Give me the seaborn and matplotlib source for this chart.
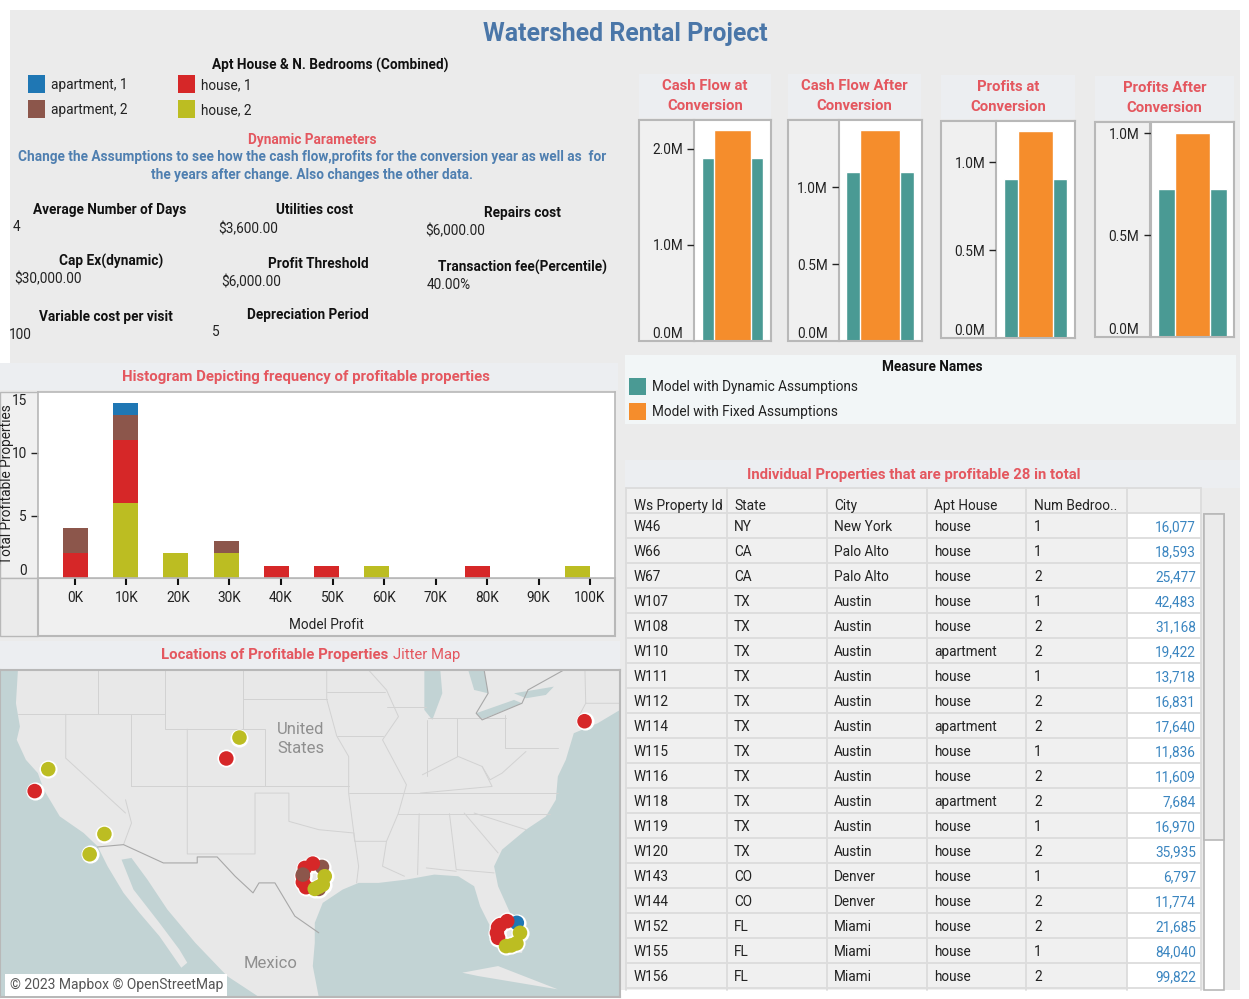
import numpy as np
import pandas as pd
import matplotlib
matplotlib.use("Agg")
import matplotlib.pyplot as plt
from matplotlib.patches import Rectangle, Polygon
import seaborn as sns

# ---------------- data ----------------
type_levels = ["apartment, 1", "apartment, 2", "house, 1", "house, 2"]
type_colors = ["#1f77b4", "#8c564b", "#d62728", "#bcbd22"]

hist_centers = [0.1, 9.7, 9.7, 9.7, 9.7, 0.1, 19.5, 29.2, 29.2, 38.9, 48.6, 58.3, 77.8, 97.2]
hist_types = ["house, 1", "house, 2", "house, 1", "apartment, 2", "apartment, 1", "apartment, 2",
              "house, 2", "house, 2", "apartment, 2", "house, 1", "house, 1", "house, 2", "house, 1", "house, 2"]
hist_counts = [2, 6, 5, 2, 1, 2, 2, 2, 1, 1, 1, 1, 1, 1]
hist_ticks = [0, 10, 20, 30, 40, 50, 60, 70, 80, 90, 100]
hist_ticklabels = ["0K", "10K", "20K", "30K", "40K", "50K", "60K", "70K", "80K", "90K", "100K"]

panel_titles = ["Cash Flow at\nConversion", "Cash Flow After\nConversion",
                "Profits at\nConversion", "Profits After\nConversion"]
dynamic_vals = [1.91, 1.10, 0.903, 0.727]
fixed_vals = [2.20, 1.375, 1.178, 1.00]
panel_ticks = [[0, 1, 2], [0, 0.5, 1], [0, 0.5, 1], [0, 0.5, 1]]

table_ids = ["W46", "W66", "W67", "W107", "W108", "W110", "W111", "W112", "W114", "W115",
             "W116", "W118", "W119", "W120", "W143", "W144", "W152", "W155", "W156"]
table_states = ["NY", "CA", "CA"] + ["TX"] * 11 + ["CO", "CO", "FL", "FL", "FL"]
table_cities = ["New York", "Palo Alto", "Palo Alto"] + ["Austin"] * 11 + ["Denver", "Denver", "Miami", "Miami", "Miami"]
table_types = ["house", "house", "house", "house", "house", "apartment", "house", "house", "apartment", "house",
               "house", "apartment", "house", "house", "house", "house", "house", "house", "house"]
table_beds = [1, 1, 2, 1, 2, 2, 1, 2, 2, 1, 2, 2, 1, 2, 1, 2, 2, 1, 2]
table_profit = ["16,077", "18,593", "25,477", "42,483", "31,168", "19,422", "13,718", "16,831", "17,640", "11,836",
                "11,609", "7,684", "16,970", "35,935", "6,797", "11,774", "21,685", "84,040", "99,822"]
table_headers = ["Ws Property Id", "State", "City", "Apt House", "Num Bedroo.."]

map_x = [1467, 601, 568, 121, 87, 262, 225,
         808, 800, 785, 765, 760, 760, 768, 760, 815, 810, 800, 790,
         1297, 1273, 1255, 1250, 1247, 1250, 1305, 1296, 1283, 1270]
map_y = [184, 233, 296, 328, 394, 523, 584,
         622, 688, 612, 625, 650, 668, 683, 645, 650, 675, 682, 688,
         790, 785, 797, 803, 820, 835, 820, 852, 858, 860]
map_t = ["house, 1", "house, 2", "house, 1", "house, 2", "house, 1", "house, 2", "house, 2",
         "apartment, 2", "apartment, 2", "house, 1", "house, 1", "house, 1", "house, 1", "house, 1", "apartment, 2",
         "house, 2", "house, 2", "house, 2", "house, 2",
         "apartment, 1", "house, 1", "house, 1", "house, 1", "house, 1", "house, 1",
         "house, 2", "house, 2", "house, 2", "house, 2"]

land = [(45, 30), (1556, 30), (1556, 150), (1500, 190), (1440, 220), (1420, 300), (1400, 350), (1395, 420),
        (1370, 470), (1320, 510), (1260, 570), (1240, 620), (1250, 680), (1280, 760), (1320, 830), (1310, 880),
        (1270, 880), (1230, 800), (1205, 740), (1190, 680), (1150, 650), (1090, 645), (1020, 660), (950, 670),
        (900, 670), (860, 690), (810, 730), (790, 790), (790, 850), (785, 920), (800, 1013), (650, 1013), (570, 950),
        (490, 850), (420, 750), (370, 660), (330, 595), (305, 600), (335, 690), (400, 790), (450, 870), (470, 910),
        (455, 925), (400, 830), (350, 760), (310, 700), (270, 620), (245, 560), (210, 520), (150, 470), (110, 390),
        (95, 340), (65, 300), (42, 240), (50, 200), (40, 130)]
lakes = [[(1065, 30), (1105, 30), (1110, 100), (1085, 180), (1065, 150)],
         [(1175, 30), (1215, 30), (1225, 100), (1190, 90)],
         [(1195, 160), (1290, 120), (1310, 130), (1210, 178)],
         [(1290, 100), (1390, 80), (1370, 105), (1320, 115)]]
cuba = [(1160, 940), (1250, 920), (1400, 990), (1300, 970), (1200, 950)]
state_lines = [
    [(45, 163), (415, 163)], [(247, 30), (247, 163)], [(415, 30), (415, 208), (666, 208), (666, 380)],
    [(611, 30), (611, 208)], [(611, 118), (820, 118)], [(470, 208), (470, 583), (640, 583), (640, 400), (725, 400), (725, 485), (800, 510), (888, 520), (890, 545), (970, 545), (960, 620), (1015, 650)],
    [(330, 163), (330, 380)], [(165, 163), (165, 295), (315, 460)], [(330, 380), (875, 380)],
    [(315, 420), (330, 490), (310, 555)], [(875, 290), (875, 400), (888, 520), (900, 620), (895, 670)],
    [(845, 228), (960, 228)], [(820, 30), (820, 118), (845, 228), (875, 290)], [(820, 95), (965, 95)],
    [(925, 30), (970, 90), (1000, 170), (960, 240), (1020, 375), (1000, 460), (970, 545)],
    [(970, 140), (1070, 140)], [(1072, 180), (1072, 350)], [(1075, 175), (1270, 175)], [(1148, 175), (1148, 290)],
    [(1268, 165), (1268, 265), (1400, 265)], [(875, 400), (1400, 400)], [(1000, 462), (1380, 462)],
    [(1052, 462), (1048, 645)], [(1128, 462), (1145, 630), (1240, 640)], [(1070, 625), (1145, 635)],
    [(1165, 460), (1250, 580)], [(1190, 460), (1320, 510)],
    [(1060, 345), (1150, 290), (1210, 320), (1230, 360), (1260, 340), (1320, 275)], [(1210, 320), (1235, 380), (1055, 400)],
    [(1468, 30), (1470, 130), (1556, 130)], [(1470, 130), (1450, 175)]]
country_lines = [
    [(245, 562), (310, 555), (410, 610), (495, 610), (495, 592), (545, 592), (590, 650), (635, 700), (650, 670),
     (690, 670), (740, 770), (800, 820)],
    [(1215, 30), (1225, 100), (1195, 160), (1210, 180), (1310, 130), (1325, 90), (1415, 30)]]

# ---------------- figure ----------------
W, H = 1249, 999
sns.set_theme(style="white")
plt.rcParams["font.family"] = ["Roboto", "DejaVu Sans"]
fig = plt.figure(figsize=(W / 100, H / 100), dpi=100, facecolor="white")

def axpx(x0, y0, x1, y1, **kw):
    return fig.add_axes([x0 / W, 1 - y1 / H, (x1 - x0) / W, (y1 - y0) / H], **kw)

bg = axpx(0, 0, W, H, zorder=0)
bg.set_xlim(0, W)
bg.set_ylim(H, 0)
bg.axis("off")

def box(x0, y0, x1, y1, fc, ec="none", lw=0):
    bg.add_patch(Rectangle((x0, y0), x1 - x0, y1 - y0, facecolor=fc, edgecolor=ec, linewidth=lw))

def txt(x, y, s, size=9.85, weight="normal", color="#222222", ha="left", **kw):
    bg.text(x, y + 1, s, fontsize=size, fontweight=weight, color=color, ha=ha, va="center", **kw)

RED = "#e4575f"
GREY = "#b8b8b8"
TEAL = "#4a9a94"
ORANGE = "#f58d2c"
HEAD = 10.7

box(10, 10, 1240, 990, "#ebebeb")
box(0, 363, 620, 998, "#ebebeb")

txt(625, 33, "Watershed Rental Project", size=17.9, weight="bold", color="#4a76a8", ha="center")

# top-left legend
txt(330, 64, "Apt House & N. Bedrooms (Combined)", weight="bold", ha="center", color="#111111")
for (sx, ly, tx), lab, col in zip([(28, 84, 51), (28, 109, 51), (178, 84, 201), (178, 109, 201)],
                                  type_levels, type_colors):
    box(sx, ly - 9, sx + 17, ly + 9, col)
    txt(tx, ly, lab)

txt(312, 139, "Dynamic Parameters", weight="bold", color=RED, ha="center")
txt(312, 156, "Change the Assumptions to see how the cash flow,profits for the conversion year as well as  for",
    weight="bold", color="#4f7fb0", ha="center")
txt(312, 174, "the years after change. Also changes the other data.", weight="bold", color="#4f7fb0", ha="center")

param_labels = ["Average Number of Days", "Utilities cost", "Repairs cost", "Cap Ex(dynamic)", "Profit Threshold",
                "Transaction fee(Percentile)", "Variable cost per visit", "Depreciation Period"]
param_lx = [110, 315, 522, 111, 318.5, 523, 106, 308]
param_ly = [209, 209.5, 212.5, 260, 263.5, 266, 316, 313.5]
param_vals = ["4", "$3,600.00", "$6,000.00", "$30,000.00", "$6,000.00", "40.00%", "100", "5"]
param_vx = [13, 218, 425, 14, 221.5, 426.5, 9, 212]
param_vy = [226, 228, 230, 278, 281, 284, 334, 331]
for lx, ly, l, vx, vy, v in zip(param_lx, param_ly, param_labels, param_vx, param_vy, param_vals):
    txt(lx, ly, l, weight="bold", ha="center", color="#111111")
    txt(vx, vy, v.replace("$", r"\$"))

# small bar panels
panel_frames = [(638.7, 694.4, 771, 120, 341), (787.7, 838.7, 921.5, 120, 341),
                (941, 996.4, 1075, 121, 338.3), (1094.8, 1150.5, 1234, 122.3, 337)]
px_per_m = [96, 153.7, 176, 203.7]
band_tops = [(74, 118), (74, 118), (75, 119), (76, 120)]
teal_w = [0.80, 0.83, 0.794, 0.826]
orange_w = [0.476, 0.49, 0.44, 0.42]
for i in range(4):
    fx, lx, rx, ty, by = panel_frames[i]
    box(fx, band_tops[i][0], rx, band_tops[i][1], "#eceef1")
    title_y = (band_tops[i][0] + band_tops[i][1]) / 2
    txt((fx + rx) / 2, title_y - 1, panel_titles[i], size=HEAD, weight="bold", color=RED, ha="center", linespacing=1.5)
    box(fx, ty, lx, by, "#f0f0f0", GREY, 1.5)
    a = axpx(lx, ty, rx, by, zorder=2)
    sns.barplot(x=["m"], y=[dynamic_vals[i]], color=TEAL, saturation=1, width=teal_w[i], ax=a)
    sns.barplot(x=["m"], y=[fixed_vals[i]], color=ORANGE, saturation=1, width=orange_w[i], ax=a)
    a.set_xlim(-0.5, 0.5)
    a.set_ylim(0, (by - ty) / px_per_m[i])
    a.set_xlabel("")
    a.set_ylabel("")
    a.set_xticks([])
    a.set_yticks(panel_ticks[i])
    a.set_yticklabels([f"{v:.1f}M" for v in panel_ticks[i]], fontsize=9.85, color="#222222")
    a.tick_params(axis="y", length=5, width=1, color="#222222", pad=3, left=True)
    a.get_yticklabels()[0].set_va("bottom")
    a.yaxis.get_major_ticks()[0].tick1line.set_visible(False)
    for s in a.spines.values():
        s.set_color(GREY)
        s.set_linewidth(1.5)
    a.spines["left"].set_linewidth(0.8)

# measure legend
box(625, 355, 1236, 424, "#f2f6f7")
txt(932, 366, "Measure Names", weight="bold", ha="center", color="#111111")
for ly, lab, col in [(386.5, "Model with Dynamic Assumptions", TEAL), (411, "Model with Fixed Assumptions", ORANGE)]:
    box(629, ly - 8.5, 646, ly + 8.5, col)
    txt(652.5, ly, lab)

# histogram
box(0, 363, 618, 390, "#eceef1")
txt(306, 375.5, "Histogram Depicting frequency of profitable properties", size=HEAD, weight="bold", color=RED, ha="center")
box(0, 392, 38, 578, "#f0f0f0", GREY, 1)
box(0, 578, 38, 636, "#ebebeb", GREY, 1)
box(38, 578, 615, 636, "#f0f0f0", GREY, 1.5)
hist_df = pd.DataFrame({"profit": hist_centers, "kind": hist_types, "n": hist_counts})
ha = axpx(38, 392, 615, 578, zorder=2)
sns.histplot(data=hist_df, x="profit", weights="n", hue="kind", hue_order=type_levels, palette=type_colors,
             multiple="stack", binwidth=9.75, binrange=(-4.775, 102.475), shrink=0.5, alpha=1, linewidth=0,
             legend=False, ax=ha)
ha.set_xlim(-7.18, 104.85)
ha.set_ylim(0, 14.88)
ha.set_xlabel("Model Profit", fontsize=9.85, color="#222222")
ha.xaxis.set_label_coords((326 - 38) / 577, -(625 - 578) / 186)
ha.xaxis.label.set_va("center")
ha.set_ylabel("")
ha.set_xticks(hist_ticks)
ha.set_xticklabels(hist_ticklabels, fontsize=9.85, color="#222222")
ha.set_yticks([0, 5, 10, 14.72])
ha.set_yticklabels(["0", "5", "10", "15"], fontsize=9.85, color="#222222")
ha.get_yticklabels()[0].set_va("bottom")
ha.get_yticklabels()[3].set_va("top")
ha.tick_params(axis="x", length=5, width=1.5, color="#111111", pad=4, bottom=True)
ha.tick_params(axis="y", length=5, width=1, color="#222222", pad=3, left=True)
for t, show in zip(ha.yaxis.get_major_ticks(), [False, True, True, False]):
    t.tick1line.set_visible(show)
for s in ha.spines.values():
    s.set_color(GREY)
    s.set_linewidth(1.2)
txt(7, 483, "Total Profitable Properties", rotation=90, ha="center", color="#222222")

# map
box(0, 641, 620, 669, "#eceef1")
bg.text(161, 655.5, "Locations of Profitable Properties", fontsize=HEAD, fontweight="bold", color=RED, va="center")
bg.text(393, 655.5, "Jitter Map", fontsize=HEAD, color=RED, va="center")
m = axpx(0, 670, 620, 997, zorder=2)
m.set_facecolor("#c2d3d4")
m.set_xlim(0, 1556)
m.set_ylim(1013, 30)
m.add_patch(Polygon(land, closed=True, facecolor="#e8e8e8", edgecolor="none"))
for p in lakes:
    m.add_patch(Polygon(p, closed=True, facecolor="#c2d3d4", edgecolor="none"))
m.add_patch(Polygon(cuba, closed=True, facecolor="#e8e8e8", edgecolor="none"))
for seg in state_lines:
    xs, ys = zip(*seg)
    sns.lineplot(x=list(xs), y=list(ys), sort=False, estimator=None, color="#d2d2d2", linewidth=0.7, ax=m)
for seg in country_lines:
    xs, ys = zip(*seg)
    sns.lineplot(x=list(xs), y=list(ys), sort=False, estimator=None, color="#a8a8a8", linewidth=0.8, ax=m)
map_df = pd.DataFrame({"x": map_x, "y": map_y, "kind": map_t})
sns.scatterplot(data=map_df, x="x", y="y", color="white", s=170, linewidth=0, legend=False, ax=m, zorder=4)
sns.scatterplot(data=map_df, x="x", y="y", hue="kind", hue_order=type_levels, palette=type_colors, s=110,
                linewidth=0, legend=False, ax=m, zorder=5)
m.set_xlim(0, 1556)
m.set_ylim(1013, 30)
m.set_xlabel("")
m.set_ylabel("")
m.set_xticks([])
m.set_yticks([])
for s in m.spines.values():
    s.set_color(GREY)
    s.set_linewidth(1.5)
m.text(755, 208, "United", fontsize=12, color="#8f8f8f", ha="center", va="center")
m.text(755, 266, "States", fontsize=12, color="#8f8f8f", ha="center", va="center")
m.text(678, 912, "Mexico", fontsize=12, color="#8f8f8f", ha="center", va="center")
m.text(24, 976, "© 2023 Mapbox © OpenStreetMap", fontsize=10, color="#555555", va="center",
       bbox=dict(facecolor="white", edgecolor="none", pad=3))

# table
box(625, 460, 1240, 488, "#eceef1")
txt(914, 473.5, "Individual Properties that are profitable 28 in total", size=HEAD, weight="bold", color=RED, ha="center")
col_edges = [626, 727, 827, 927, 1026, 1127, 1201]
box(626, 488, 1201, 990, "#f0f0f0")
box(1127, 513, 1201, 990, "white")
for x in col_edges:
    bg.plot([x, x], [488, 990], color="#dcdcdc", lw=1.3)
row_edges = [488, 513] + [513 + 25 * (i + 1) for i in range(len(table_ids))]
for y in row_edges:
    bg.plot([626, 1201], [y, y], color="#dcdcdc", lw=1.3)
for x, h in zip([634, 734, 834, 934, 1034], table_headers):
    txt(x, 505, h)
for i in range(len(table_ids)):
    y = 526 + 25 * i
    txt(634, y, table_ids[i])
    txt(734, y, table_states[i])
    txt(834, y, table_cities[i])
    txt(934, y, table_types[i])
    txt(1034, y, str(table_beds[i]))
    txt(1196, y, table_profit[i], color="#3a85c0", ha="right")
box(1204, 514, 1224, 990, "white", GREY, 1.2)
box(1204, 514, 1224, 840, "#ebebeb", GREY, 1.2)

fig.savefig("out.png", dpi=100)
